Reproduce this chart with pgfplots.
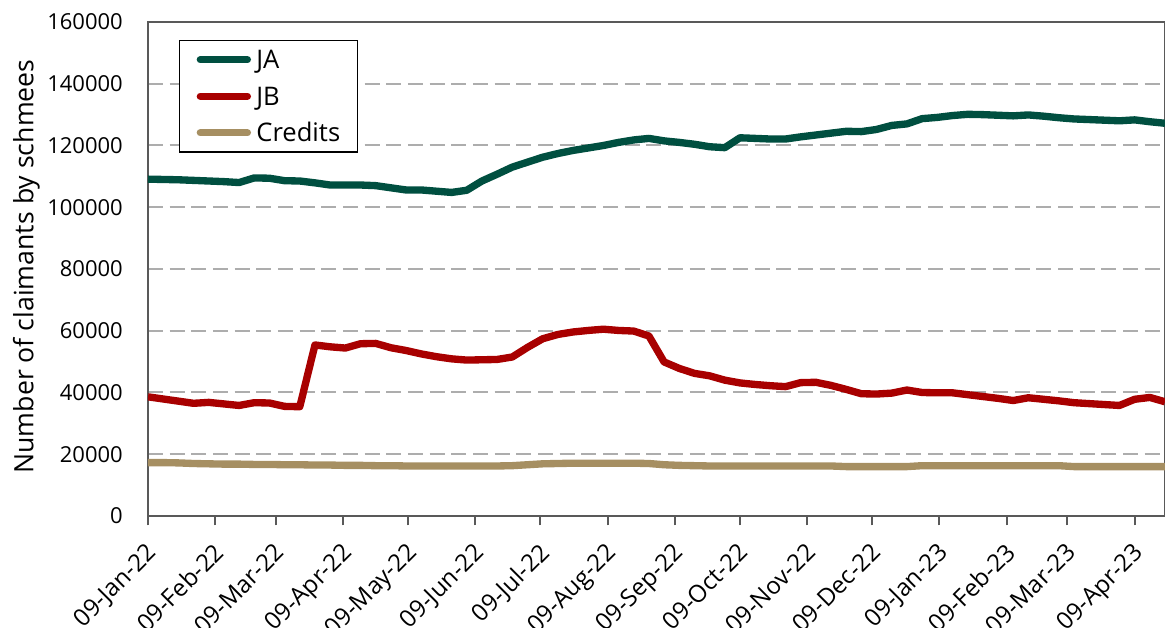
\documentclass[border=0pt]{standalone}
\usepackage{pgfplots}
\usepackage{pgfplotstable}
\pgfplotsset{compat=1.18}
\usepackage{fontspec}
\setmainfont{Open Sans}
\definecolor{jacol}{HTML}{004F40}
\definecolor{jbcol}{HTML}{A80000}
\definecolor{crcol}{HTML}{A68F62}
\definecolor{axcol}{HTML}{595959}
\definecolor{gridcol}{HTML}{ADADAD}
\pgfplotstableread{
day JA JB CR
0 109100 38600 17300
7 109000 37900 17300
14 108900 37200 17200
21 108700 36500 17000
28 108500 36800 16900
35 108300 36300 16800
42 108000 35800 16800
49 109500 36700 16700
56 109400 36600 16700
63 108600 35500 16600
70 108500 35400 16600
77 107900 55400 16500
84 107200 54800 16500
91 107200 54400 16400
98 107200 55800 16400
105 107000 55900 16300
112 106300 54500 16300
119 105600 53600 16200
126 105600 52500 16200
133 105200 51600 16200
140 104800 50900 16200
147 105500 50500 16200
154 108500 50600 16200
161 110700 50700 16200
168 113000 51500 16300
175 114600 54600 16600
182 116200 57400 16900
189 117400 58800 17000
196 118400 59600 17100
203 119200 60100 17100
210 120000 60500 17100
217 121000 60100 17100
224 121800 59900 17100
231 122300 58300 17000
238 121500 49900 16600
245 121000 47800 16400
252 120400 46200 16300
259 119600 45400 16200
266 119300 44000 16200
273 122500 43100 16200
280 122300 42600 16200
287 122100 42200 16200
294 122100 41900 16200
301 122800 43200 16200
308 123400 43300 16200
315 124000 42300 16200
322 124600 41000 16000
329 124500 39600 16000
336 125200 39500 16000
343 126500 39800 16000
350 127000 40800 16000
357 128700 40000 16300
364 129100 39900 16300
371 129700 39900 16300
378 130100 39300 16300
385 130000 38700 16300
392 129800 38100 16300
399 129600 37400 16300
406 129900 38300 16300
413 129500 37800 16300
420 129000 37300 16300
427 128600 36700 16000
434 128400 36400 16000
441 128200 36100 16000
448 128000 35800 16000
455 128300 37800 16000
462 127700 38400 16000
469 127200 37000 16000
}\datatable
\begin{document}
\begin{tikzpicture}
\path[use as bounding box] (-111pt,-84pt) rectangle (762.75pt,387pt);
\begin{axis}[
  scale only axis,
  width=762.75pt, height=370.5pt,
  xmin=0, xmax=469,
  ymin=0, ymax=160000,
  axis line style={draw=axcol, line width=1.5pt},
  ytick={0,20000,...,160000},
  scaled y ticks=false,
  /pgf/number format/fixed,
  /pgf/number format/1000 sep={},
  /pgf/number format/assume math mode=true,
  yticklabel style={font=\fontsize{16.5}{19}\selectfont, inner sep=0pt, xshift=-18.75pt},
  ymajorgrids,
  y grid style={draw=gridcol, line width=1.5pt, dash pattern=on 11.25pt off 5pt},
  ytick style={draw=none},
  xtick={0,31,59,90,120,151,181,212,243,273,304,334,365,396,424,455},
  xticklabels={09-Jan-22,09-Feb-22,09-Mar-22,09-Apr-22,09-May-22,09-Jun-22,09-Jul-22,09-Aug-22,09-Sep-22,09-Oct-22,09-Nov-22,09-Dec-22,09-Jan-23,09-Feb-23,09-Mar-23,09-Apr-23},
  xtick align=outside,
  xtick pos=bottom,
  major tick length=7pt,
  xtick style={draw=axcol, line width=1.5pt},
  xticklabel style={font=\fontsize{18}{21}\selectfont, inner sep=0pt, yshift=-12pt, xshift=-2pt, rotate=45, anchor=north east},
  ylabel={Number of claimants by schmees},
  every axis y label/.style={at={(axis description cs:-0.1128,0.505)}, rotate=90, anchor=base, font=\fontsize{20}{24}\selectfont},
  legend cell align=left,
  legend style={at={(axis description cs:0.0305,0.9636)}, anchor=north west,
    draw=black, line width=1pt, fill=white,
    inner xsep=12.75pt, inner ysep=7.5pt,
    row sep=13.8pt, column sep=4pt,
    font=\fontsize{19.2}{22}\selectfont,
    nodes={inner sep=0pt, text height=13.6pt, text depth=0pt}},
  legend image code/.code={\draw[#1, line cap=round] (0pt,0pt) -- (35.25pt,0pt);},
  every axis plot/.append style={line width=5.5pt, line join=round},
]
\addplot[jacol, mark=none] table[x=day, y=JA] {\datatable};
\addlegendentry{JA}
\addplot[jbcol, mark=none] table[x=day, y=JB] {\datatable};
\addlegendentry{JB}
\addplot[crcol, mark=none] table[x=day, y=CR] {\datatable};
\addlegendentry{Credits}
\end{axis}
\end{tikzpicture}
\end{document}
